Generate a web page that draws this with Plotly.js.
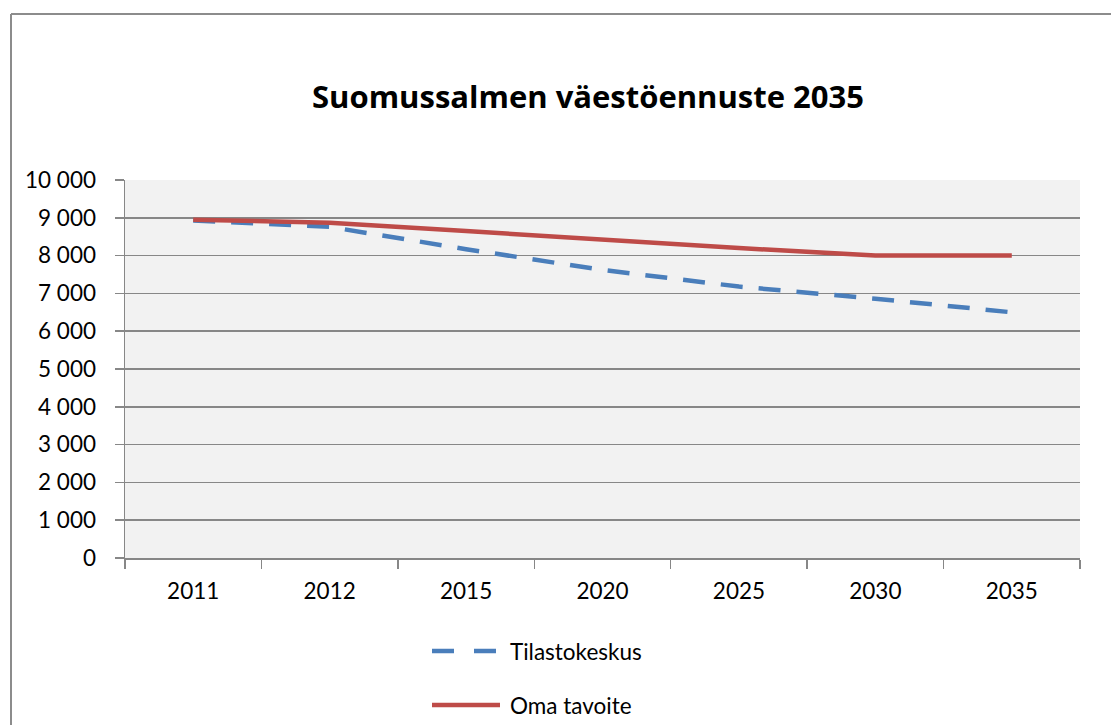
<!DOCTYPE html>
<html>
<head>
<meta charset="utf-8">
<script src="https://cdn.plot.ly/plotly-3.0.1.min.js"></script>
<style>html,body{margin:0;padding:0;background:#fff;}#chart{width:1111px;height:725px;}</style>
</head>
<body>
<div id="chart"></div>
<script>
// Data
const years = ['2011', '2012', '2015', '2020', '2025', '2030', '2035'];
const tilastokeskus = [8930, 8760, 8170, 7620, 7180, 6860, 6500];
const omaTavoite = [8950, 8870, 8650, 8420, 8200, 8000, 8000];
const seriesNames = ['Tilastokeskus', 'Oma tavoite'];
const titleText = 'Suomussalmen väestöennuste 2035';

const FONT = 'Lato, "Open Sans", sans-serif';
const TFONT = '"Open Sans", Lato, sans-serif';
const FS = 22.5;
const BLUE = '#4a7ebb';
const RED = '#be4b48';
const GRID = '#878787';

// plot area in pixels (for decoration placement)
const W = 1111, H = 725, L = 125, R = 1080, T = 180, B = 558;
const px = x => (x - L) / (R - L);
const py = y => (B - y) / (B - T);

const traces = [
  {x: years, y: tilastokeskus, name: seriesNames[0], type: 'scatter', mode: 'lines',
   line: {color: BLUE, width: 4.5, dash: '22px,16px'}, hoverinfo: 'x+y'},
  {x: years, y: omaTavoite, name: seriesNames[1], type: 'scatter', mode: 'lines',
   line: {color: RED, width: 4.5}, hoverinfo: 'x+y'}
];

const layout = {
  width: W, height: H,
  margin: {l: L, r: W - R, t: T, b: H - B, pad: 0},
  paper_bgcolor: '#ffffff',
  plot_bgcolor: '#f2f2f2',
  separators: ', ',
  showlegend: false,
  font: {family: FONT, size: FS, color: '#000'},
  title: {text: '<b>' + titleText + '</b>', font: {family: TFONT, size: 31, color: '#000'},
          x: 588 / W, xref: 'container', xanchor: 'center',
          y: 1 - 97 / H, yref: 'container', yanchor: 'middle'},
  xaxis: {type: 'category', range: [-0.5, years.length - 0.5], showgrid: false,
          showline: true, linecolor: GRID, linewidth: 1.5,
          ticks: 'outside', tickson: 'boundaries', ticklen: 9, tickcolor: GRID, tickwidth: 1.5,
          ticklabelstandoff: 12, tickfont: {family: FONT, size: FS, color: '#000'}, zeroline: false},
  yaxis: {range: [0, 10000], dtick: 1000, tick0: 0, tickformat: ',d',
          showgrid: true, gridcolor: GRID, gridwidth: 1.5,
          showline: true, linecolor: GRID, linewidth: 1.5,
          ticks: 'outside', ticklen: 9, tickcolor: GRID, tickwidth: 1.5,
          ticklabelstandoff: 14, tickfont: {family: FONT, size: FS, color: '#000'}, zeroline: false},
  shapes: [
    // outer chart border (top and left)
    {type: 'line', xref: 'paper', yref: 'paper', x0: px(11), x1: px(W + 5), y0: py(14), y1: py(14),
     line: {color: '#8c8c8c', width: 2}},
    {type: 'line', xref: 'paper', yref: 'paper', x0: px(11), x1: px(11), y0: py(14), y1: py(H + 5),
     line: {color: '#8c8c8c', width: 2}},
    // legend symbols
    {type: 'line', xref: 'paper', yref: 'paper', x0: px(432), x1: px(500), y0: py(651), y1: py(651),
     line: {color: BLUE, width: 4.5, dash: '22px,20px'}},
    {type: 'line', xref: 'paper', yref: 'paper', x0: px(432), x1: px(500), y0: py(705), y1: py(705),
     line: {color: RED, width: 4.5}}
  ],
  annotations: [
    {xref: 'paper', yref: 'paper', x: px(508), y: py(651), xanchor: 'left', yanchor: 'middle',
     text: seriesNames[0], showarrow: false, font: {family: FONT, size: FS, color: '#000'}},
    {xref: 'paper', yref: 'paper', x: px(508), y: py(705), xanchor: 'left', yanchor: 'middle',
     text: seriesNames[1], showarrow: false, font: {family: FONT, size: FS, color: '#000'}}
  ]
};

Plotly.newPlot('chart', traces, layout, {displayModeBar: false, staticPlot: true});
</script>
</body>
</html>
